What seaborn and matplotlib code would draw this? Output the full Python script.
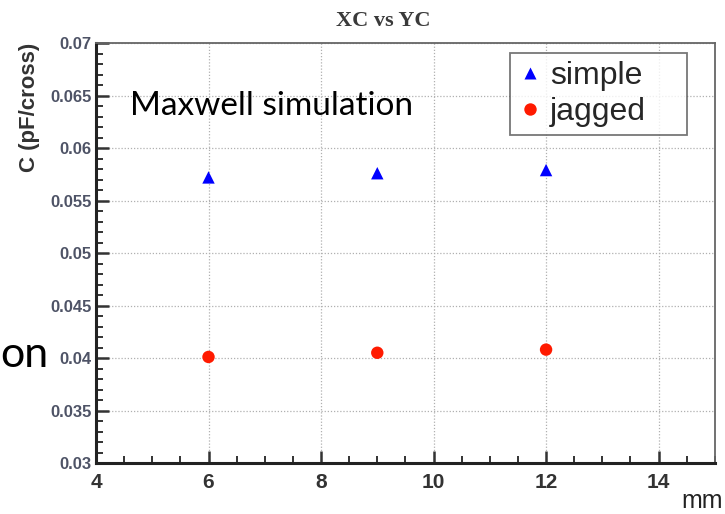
import numpy as np
import pandas as pd
import matplotlib
matplotlib.use("Agg")
import matplotlib.pyplot as plt
import seaborn as sns
from matplotlib.ticker import MultipleLocator

# values
gap_mm = [6, 9, 12]
simple_c = [0.0572, 0.0576, 0.0579]
jagged_c = [0.0401, 0.0405, 0.0408]
series_names = ["simple", "jagged"]

df = pd.DataFrame({
    "mm": gap_mm + gap_mm,
    "C": simple_c + jagged_c,
    "type": [series_names[0]] * len(gap_mm) + [series_names[1]] * len(gap_mm),
})

sns.set_style("white")
plt.rcParams["font.family"] = ["Liberation Sans", "DejaVu Sans"]

fig = plt.figure(figsize=(7.25, 5.14), dpi=100)
ax = fig.add_axes([0.1324, 0.0992, 0.8536, 0.8171])

sns.scatterplot(data=df, x="mm", y="C", hue="type", style="type",
                palette={"simple": "#0000ff", "jagged": "#ff1a00"},
                markers={"simple": "^", "jagged": "o"},
                s=80, edgecolor="none", ax=ax, zorder=3)

ax.set_xlim(4, 15)
ax.set_ylim(0.03, 0.07)
ax.xaxis.set_major_locator(MultipleLocator(2))
ax.xaxis.set_minor_locator(MultipleLocator(0.5))
ax.yaxis.set_major_locator(MultipleLocator(0.005))
ax.yaxis.set_minor_locator(MultipleLocator(0.001))
ax.set_yticks(ax.get_yticks())
ax.set_yticklabels([f"{v:g}" for v in ax.get_yticks()])
ax.tick_params(axis="both", which="both", direction="in", color="#333333",
               bottom=True, left=True, top=False, right=False)
ax.tick_params(axis="x", which="major", length=9, width=1.8, labelsize=15, pad=7,
               labelcolor="#333333")
ax.tick_params(axis="x", which="minor", length=5, width=1.4)
ax.tick_params(axis="y", which="major", length=9, width=1.8, labelsize=12, pad=3,
               labelcolor="#4e5366")
ax.tick_params(axis="y", which="minor", length=5, width=1.4)
for lbl in ax.get_yticklabels():
    lbl.set_fontweight("bold")
for lbl in ax.get_xticklabels():
    lbl.set_fontweight("bold")
ax.set_ylim(0.03, 0.07)

ax.grid(True, which="major", linestyle=(0, (1, 1.5)), color="#b0b0b0", linewidth=0.9)

for side in ["left", "bottom"]:
    ax.spines[side].set_color("#222222")
    ax.spines[side].set_linewidth(2.2)
for side in ["top", "right"]:
    ax.spines[side].set_color("#666666")
    ax.spines[side].set_linewidth(1.3)

ax.set_xlabel("")
ax.set_ylabel("")
fig.text(30 / 725, 1 - 43 / 514, "C (pF/cross)", rotation=90, ha="center", va="top",
         fontsize=16, fontweight="bold", color="#333333")
ax.set_title("XC vs YC", fontsize=16, family=["Liberation Serif", "DejaVu Serif"],
             fontweight="bold", color="#3a3a3a", pad=12, x=0.464)

leg = ax.legend(loc="upper left", bbox_to_anchor=(0.669, 0.976, 0.286, 0.0),
                mode="expand", fontsize=23, frameon=True, fancybox=False,
                handletextpad=0.25, borderpad=0.25, labelspacing=0.2,
                handlelength=0.75, borderaxespad=0)
leg.get_frame().set_edgecolor("#555555")
leg.get_frame().set_linewidth(1.3)

ax.text(0.055, 0.829, "Maxwell simulation", transform=ax.transAxes, fontsize=24,
        va="baseline", family=["Lato", "DejaVu Sans"], color="black")
fig.text(0.997, 0.002, "mm", ha="right", va="bottom", fontsize=18, color="#222222")
fig.text(0.0, 1 - 355 / 514, "on", ha="left", va="center", fontsize=31,
         family=["Lato", "DejaVu Sans"], color="black")

fig.savefig("out.png", dpi=100)
